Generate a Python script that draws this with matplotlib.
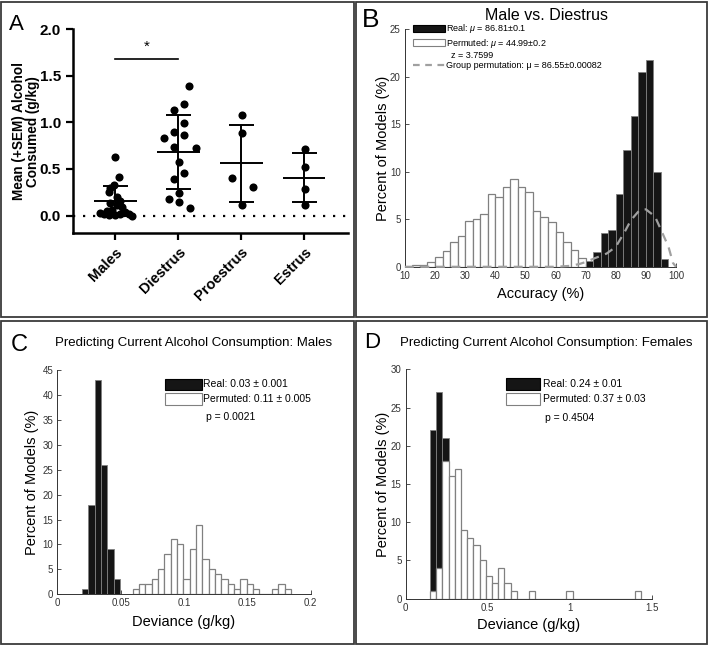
import matplotlib.pyplot as plt
from matplotlib.patches import Rectangle
from matplotlib.lines import Line2D
import numpy as np

plt.rcParams['font.family'] = ['Liberation Sans', 'DejaVu Sans']
plt.rcParams['mathtext.fontset'] = 'custom'
plt.rcParams['mathtext.it'] = 'Liberation Sans:italic'
plt.rcParams['mathtext.rm'] = 'Liberation Sans'

# ---- panel A: alcohol consumed per group ----
groups = ['Males', 'Diestrus', 'Proestrus', 'Estrus']
males = [0.63, 0.41, 0.33, 0.30, 0.25, 0.20, 0.16, 0.13, 0.11, 0.09,
         0.05, 0.03, 0.02, 0.01, 0.01, 0.02, 0.04, 0.02, 0.00, 0.06]
males_jit = [0.0, 0.06, -0.03, -0.08, -0.10, 0.03, 0.08, -0.08, 0.02, 0.10,
             -0.13, -0.25, -0.18, -0.10, 0.0, 0.08, 0.16, 0.21, 0.27, -0.05]
diestrus = [1.39, 1.20, 1.13, 0.99, 0.90, 0.86, 0.83, 0.74, 0.73, 0.575,
            0.46, 0.39, 0.24, 0.18, 0.14, 0.08]
diestrus_jit = [0.17, 0.09, -0.07, 0.09, -0.07, 0.09, -0.23, -0.07, 0.28, 0.01,
                0.09, -0.07, 0.01, -0.15, 0.01, 0.18]
proestrus = [1.08, 0.89, 0.40, 0.31, 0.11]
proestrus_jit = [0.02, 0.02, -0.15, 0.19, 0.02]
estrus = [0.71, 0.52, 0.28, 0.11]
estrus_jit = [0.02, 0.02, 0.02, 0.02]
group_mean = [0.154, 0.68, 0.56, 0.405]
group_sd = [0.16, 0.40, 0.41, 0.265]
sig_y = 1.68

# ---- panel B: Male vs. Diestrus classifier accuracy ----
b_width = 2.5
b_perm_start = 12.5
b_perm = [0.15, 0.15, 0.55, 1.0, 1.7, 2.6, 3.2, 4.8, 5.0, 5.6, 7.65, 7.4,
          8.45, 9.2, 8.45, 7.9, 5.9, 5.25, 4.75, 3.7, 2.6, 1.75, 0.9, 0.3]
b_real_start = 70
b_real = [0.6, 1.55, 3.6, 3.85, 7.7, 12.35, 15.9, 20.5, 21.75, 9.95, 0.8]
b_group_x = [10, 20, 30, 40, 50, 60, 65, 68, 70, 73, 77, 80, 83, 85, 88, 90, 93, 95, 97.5, 99, 100]
b_group_y = [0, 0, 0, 0, 0, 0, 0.1, 0.3, 0.5, 0.9, 1.4, 2.1, 3.7, 4.9, 6.0, 6.05, 5.3, 3.9, 2.1, 0.4, 0]

# ---- panel C: deviance, males ----
c_width = 0.005
c_real_start = 0.0195
c_real = [1, 18, 43, 26, 9, 3]
c_perm_start = 0.0595
c_perm = [1, 2, 2, 3, 5, 8, 11, 10, 3, 9, 14, 7, 5, 4, 3, 2, 1, 3, 2, 1, 0, 0, 1, 2, 1]

# ---- panel D: deviance, females ----
d_width = 0.0378
d_start = 0.148
d_real = [22, 27, 21]
d_perm = [1, 4, 18, 16, 17, 9, 8, 7, 5, 3, 2, 4, 2, 1, 0, 0, 1, 0, 0, 0, 0, 0, 1,
          0, 0, 0, 0, 0, 0, 0, 0, 0, 0, 1]

BLACK = '#151515'
EDGE = '#808080'

fig = plt.figure(figsize=(7.09, 6.46), dpi=100)
W, H = 709, 646

# panel frames
for (x0, y0, x1, y1) in [(1, 2, 354, 317), (356, 2, 707, 317), (1, 321, 354, 644), (356, 321, 707, 644)]:
    fig.add_artist(Rectangle((x0 / W, 1 - y1 / H), (x1 - x0) / W, (y1 - y0) / H,
                             transform=fig.transFigure, fill=False, ec='#3a3a3a', lw=1.3))

# ================= A =================
axA = fig.add_axes([0.1025, 0.639, 0.3885, 0.3156])
for i, (vals, jit) in enumerate([(males, males_jit), (diestrus, diestrus_jit),
                                 (proestrus, proestrus_jit), (estrus, estrus_jit)]):
    axA.scatter(np.array(jit) + i, vals, s=34, color='black', zorder=3, linewidths=0)
    axA.errorbar(i, group_mean[i], yerr=group_sd[i], fmt='none', ecolor='black',
                 elinewidth=1.4, capsize=9, capthick=1.4, zorder=4)
    axA.hlines(group_mean[i], i - 0.34, i + 0.34, color='black', lw=1.4, zorder=4)
axA.axhline(0, color='black', ls=(0, (1, 3.5)), lw=1.6, zorder=1)
axA.plot([0, 1], [sig_y, sig_y], color='black', lw=1.2)
axA.text(0.5, sig_y + 0.06, '*', ha='center', va='bottom', fontsize=11)
axA.set_xlim(-0.68, 3.7)
axA.set_ylim(-0.19, 2.0)
axA.set_yticks([0, 0.5, 1.0, 1.5, 2.0])
axA.set_yticklabels(['0.0', '0.5', '1.0', '1.5', '2.0'], fontweight='bold', fontsize=11)
axA.set_xticks(range(4))
axA.set_xticklabels(groups, rotation=45, ha='right', rotation_mode='anchor',
                    fontweight='bold', fontsize=10.5)
for s in ['top', 'right']:
    axA.spines[s].set_visible(False)
for s in ['left', 'bottom']:
    axA.spines[s].set_linewidth(1.8)
axA.tick_params(direction='out', length=5, width=1.6)
axA.set_ylabel('Mean (+SEM) Alcohol\nConsumed (g/kg)', fontweight='bold', fontsize=9.8,
               linespacing=1.0)
axA.yaxis.set_label_coords(-0.12, 0.5)


def style_hist(ax):
    for s in ['top', 'right']:
        ax.spines[s].set_visible(False)
    for s in ['left', 'bottom']:
        ax.spines[s].set_linewidth(0.7)
        ax.spines[s].set_color('#333333')
    ax.tick_params(direction='in', length=3, width=0.6, labelsize=7, colors='#333333', pad=3)
    ax.set_ylabel('Percent of Models (%)', fontsize=10.5)


def box_legend(ax, x, y_real, y_perm, w, h, lab_real, lab_perm, p_text, tx, fs):
    ax.add_patch(Rectangle((x, y_real), w, h, transform=ax.transAxes, fc=BLACK, ec='black',
                           lw=0.8, clip_on=False))
    ax.add_patch(Rectangle((x, y_perm), w, h, transform=ax.transAxes, fc='white', ec=EDGE,
                           lw=0.8, clip_on=False))
    ax.text(tx, y_real + h / 2, lab_real, transform=ax.transAxes, va='center', fontsize=fs)
    ax.text(tx, y_perm + h / 2, lab_perm, transform=ax.transAxes, va='center', fontsize=fs)
    ax.text(tx + 0.008, y_perm - 0.055, p_text, transform=ax.transAxes, va='center', fontsize=fs)


# ================= B =================
axB = fig.add_axes([0.571, 0.587, 0.3825, 0.3675])
xb = b_perm_start + b_width * np.arange(len(b_perm))
axB.bar(xb, b_perm, width=b_width, align='edge', color='white', edgecolor=EDGE, lw=0.9, zorder=2)
xb = b_real_start + b_width * np.arange(len(b_real))
axB.bar(xb, b_real, width=b_width, align='edge', color=BLACK, edgecolor=EDGE, lw=0.6, zorder=3)
axB.plot(b_group_x, b_group_y, color='#a0a0a0', ls=(0, (4, 3)), lw=1.6, zorder=4, clip_on=False)
axB.set_xlim(10, 100)
axB.set_ylim(0, 25)
axB.set_xticks(range(10, 101, 10))
axB.set_yticks(range(0, 26, 5))
style_hist(axB)
axB.yaxis.set_label_coords(-0.055, 0.5)
axB.set_xlabel('Accuracy (%)', fontsize=10.5)
axB.xaxis.set_label_coords(0.5, -0.085)
axB.set_title('Male vs. Diestrus', fontsize=11.5, x=0.523, pad=7)

h_real = Rectangle((0, 0), 1, 1, fc=BLACK, ec='black', lw=0.8)
h_perm = Rectangle((0, 0), 1, 1, fc='white', ec=EDGE, lw=0.8)
h_none = Rectangle((0, 0), 1, 1, fc='none', ec='none')
h_grp = Line2D([], [], color='#a0a0a0', ls=(0, (3, 2.5)), lw=1.6)
axB.legend([h_real, h_perm, h_none, h_grp],
           [r'Real: $\mu$ = 86.81±0.1', r'Permuted: $\mu$ = 44.99±0.2', '  z = 3.7599',
            'Group permutation: μ = 86.55±0.00082'],
           loc='upper left', bbox_to_anchor=(0.03, 1.03), frameon=False, fontsize=6.5,
           handlelength=3.6, handleheight=0.8, handletextpad=0.1, labelspacing=0.15,
           borderpad=0, borderaxespad=0)

# ================= C =================
axC = fig.add_axes([0.0808, 0.080, 0.3574, 0.3472])
xc = c_real_start + c_width * np.arange(len(c_real))
axC.bar(xc, c_real, width=c_width, align='edge', color=BLACK, edgecolor=EDGE, lw=0.6, zorder=2)
xc = c_perm_start + c_width * np.arange(len(c_perm))
axC.bar(xc, c_perm, width=c_width, align='edge', color='white', edgecolor=EDGE, lw=0.9, zorder=3)
axC.set_xlim(0, 0.2)
axC.set_ylim(0, 45)
axC.set_xticks([0, 0.05, 0.1, 0.15, 0.2])
axC.set_xticklabels(['0', '0.05', '0.1', '0.15', '0.2'])
axC.set_yticks(range(0, 46, 5))
style_hist(axC)
axC.yaxis.set_label_coords(-0.073, 0.5)
axC.set_xlabel('Deviance (g/kg)', fontsize=10.5)
axC.xaxis.set_label_coords(0.5, -0.091)
axC.set_title('Predicting Current Alcohol Consumption: Males', fontsize=9.5, x=0.539, pad=17)
box_legend(axC, 0.425, 0.911, 0.846, 0.145, 0.05, 'Real: 0.03 ± 0.001',
           'Permuted: 0.11 ± 0.005', 'p = 0.0021', 0.577, 7.5)

# ================= D =================
axD = fig.add_axes([0.5722, 0.0732, 0.3470, 0.3551])
xd = d_start + d_width * np.arange(len(d_real))
axD.bar(xd, d_real, width=d_width, align='edge', color=BLACK, edgecolor=EDGE, lw=0.6, zorder=2)
xd = d_start + d_width * np.arange(len(d_perm))
axD.bar(xd, d_perm, width=d_width, align='edge', color='white', edgecolor=EDGE, lw=0.9, zorder=3)
axD.set_xlim(0, 1.5)
axD.set_ylim(0, 30)
axD.set_xticks([0, 0.5, 1, 1.5])
axD.set_xticklabels(['0', '0.5', '1', '1.5'])
axD.set_yticks(range(0, 31, 5))
style_hist(axD)
axD.yaxis.set_label_coords(-0.063, 0.5)
axD.set_xlabel('Deviance (g/kg)', fontsize=10.5)
axD.xaxis.set_label_coords(0.5, -0.085)
axD.set_title('Predicting Current Alcohol Consumption: Females', fontsize=9.5, x=0.573, pad=17)
box_legend(axD, 0.4065, 0.910, 0.844, 0.139, 0.052, 'Real: 0.24 ± 0.01',
           'Permuted: 0.37 ± 0.03', 'p = 0.4504', 0.559, 7.5)

# panel letters
fig.text(9 / W, 1 - 30 / H, 'A', fontsize=16)
fig.text(362 / W, 1 - 27 / H, 'B', fontsize=19)
fig.text(11 / W, 1 - 351 / H, 'C', fontsize=17)
fig.text(364 / W, 1 - 348 / H, 'D', fontsize=16)

fig.savefig('out.png', dpi=100)
